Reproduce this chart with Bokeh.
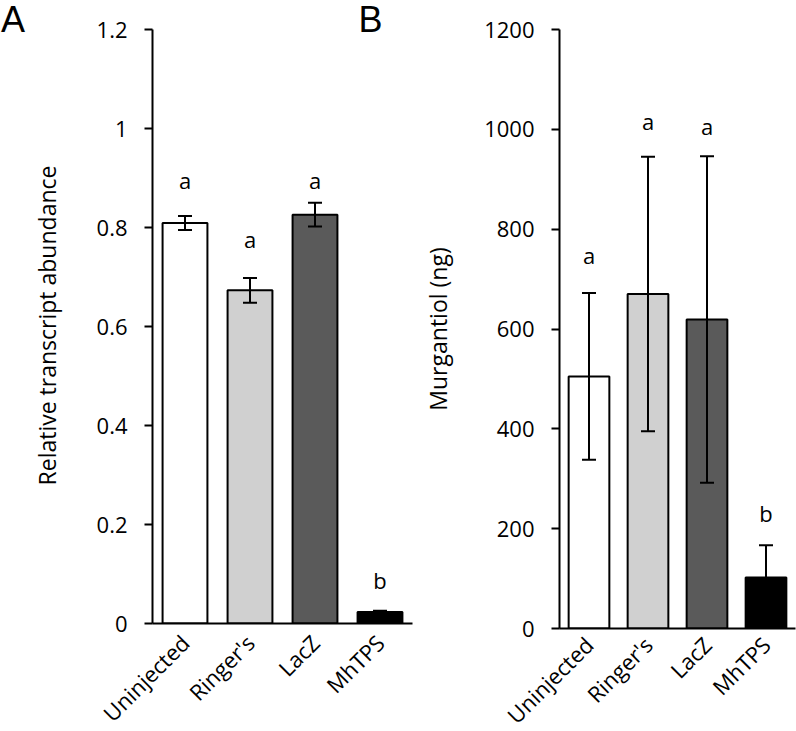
import math
from bokeh.plotting import figure
from bokeh.models import (ColumnDataSource, Whisker, TeeHead, FixedTicker,
                          NumeralTickFormatter, Label, FactorRange, Range1d)
from bokeh.layouts import row
from bokeh.core.properties import value
from bokeh.embed import file_html
from bokeh.resources import INLINE

# ---------------- data ----------------
categories = ["Uninjected", "Ringer's", "LacZ", "MhTPS"]
bar_colors = ["#ffffff", "#d0d0d0", "#5a5a5a", "#000000"]

transcript_mean = [0.809, 0.673, 0.826, 0.023]
transcript_err = [0.014, 0.025, 0.024, 0.003]
transcript_letters = ["a", "a", "a", "b"]
transcript_letter_y = [0.889, 0.770, 0.889, 0.081]

murgantiol_mean = [505, 670, 619, 102]
murgantiol_err = [167, 275, 327, 65]
murgantiol_letters = ["a", "a", "a", "b"]
murgantiol_letter_y = [743, 1011, 1001, 226]

a_ticks = [0, 0.2, 0.4, 0.6, 0.8, 1.0, 1.2]
b_ticks = [0, 200, 400, 600, 800, 1000, 1200]

FONT = "Open Sans"
TICK_FS = "22px"
LABEL_FS = "23px"
LETTER_FS = "22px"


def make_panel(mean, err, letters, letter_y, ticks, ylabel, frame_w, frame_h,
               border_top, border_left, border_right, border_bottom,
               formatter=None, label_standoff=35, x_standoff=10):
    upper = [m + e for m, e in zip(mean, err)]
    lower = [m - e for m, e in zip(mean, err)]
    src = ColumnDataSource(dict(cat=categories, mean=mean, upper=upper,
                                lower=lower, color=bar_colors, letters=letters,
                                letter_y=letter_y))
    p = figure(x_range=FactorRange(*categories),
               y_range=Range1d(ticks[0], ticks[-1]),
               frame_width=frame_w, frame_height=frame_h,
               min_border_top=border_top, min_border_left=border_left,
               min_border_right=border_right, min_border_bottom=border_bottom,
               output_backend="svg", toolbar_location=None, title=None,
               background_fill_color="white", border_fill_color="white")
    p.vbar(x="cat", top="mean", width=0.69, source=src, fill_color="color",
           line_color="black", line_width=2)
    w = Whisker(base="cat", upper="upper", lower="lower", source=src,
                line_color="black", line_width=2, level="annotation",
                upper_head=TeeHead(size=14, line_color="black", line_width=2),
                lower_head=TeeHead(size=14, line_color="black", line_width=2))
    p.add_layout(w)
    p.text(x="cat", y="letter_y", text="letters", source=src, text_align="center",
           text_baseline="middle", y_offset=-3, text_font=value(FONT),
           text_font_size=LETTER_FS, text_color="black")

    p.xgrid.visible = False
    p.ygrid.visible = False
    p.outline_line_color = None

    p.xaxis.axis_line_width = 2
    p.xaxis.axis_line_color = "black"
    p.xaxis.major_tick_line_color = None
    p.xaxis.minor_tick_line_color = None
    p.xaxis.major_label_orientation = math.pi / 4
    p.xaxis.major_label_text_font = FONT
    p.xaxis.major_label_text_font_size = TICK_FS
    p.xaxis.major_label_text_color = "black"
    p.xaxis.major_label_standoff = x_standoff

    p.yaxis.ticker = FixedTicker(ticks=ticks)
    if formatter is not None:
        p.yaxis.formatter = formatter
    p.yaxis.axis_line_width = 2
    p.yaxis.axis_line_color = "black"
    p.yaxis.major_tick_line_width = 2
    p.yaxis.major_tick_line_color = "black"
    p.yaxis.major_tick_out = 8
    p.yaxis.major_tick_in = 0
    p.yaxis.minor_tick_line_color = None
    p.yaxis.major_label_text_font = FONT
    p.yaxis.major_label_text_font_size = TICK_FS
    p.yaxis.major_label_text_color = "black"
    p.yaxis.major_label_standoff = 17
    if ylabel:
        p.yaxis.axis_label = ylabel
        p.yaxis.axis_label_text_font = FONT
        p.yaxis.axis_label_text_font_size = LABEL_FS
        p.yaxis.axis_label_text_font_style = "normal"
        p.yaxis.axis_label_text_color = "black"
        p.yaxis.axis_label_standoff = label_standoff
    return p


# panel A: its y title and the panel letters are drawn as labels in the left
# side panel (so they are not clipped to the frame)
pa = make_panel(transcript_mean, transcript_err, transcript_letters,
                transcript_letter_y, a_ticks, None, 260, 594, 29, 152, 3, 108,
                formatter=NumeralTickFormatter(format="0.[0]"), x_standoff=9)
pb = make_panel(murgantiol_mean, murgantiol_err, murgantiol_letters,
                murgantiol_letter_y, b_ticks, "Murgantiol (ng)",
                236, 599, 24, 144, 1, 108, label_standoff=27, x_standoff=6)

pa.add_layout(Label(x=-1.63, y=0.602, text="Relative transcript abundance",
                    angle=math.pi / 2, text_font=FONT, text_font_size=LABEL_FS,
                    text_align="center", text_baseline="middle",
                    text_color="black"), "left")
pa.add_layout(Label(x=-2.33, y=1.22, text="A",
                    text_font="Liberation Sans", text_font_size="36px",
                    text_baseline="alphabetic", text_align="left",
                    text_color="black"), "left")
pa.add_layout(Label(x=3.17, y=1.22, text="B",
                    text_font="Liberation Sans", text_font_size="36px",
                    text_baseline="alphabetic", text_align="left",
                    text_color="black"), "left")

layout = row(pa, pb)
open("out.html", "w").write(file_html(layout, INLINE))
